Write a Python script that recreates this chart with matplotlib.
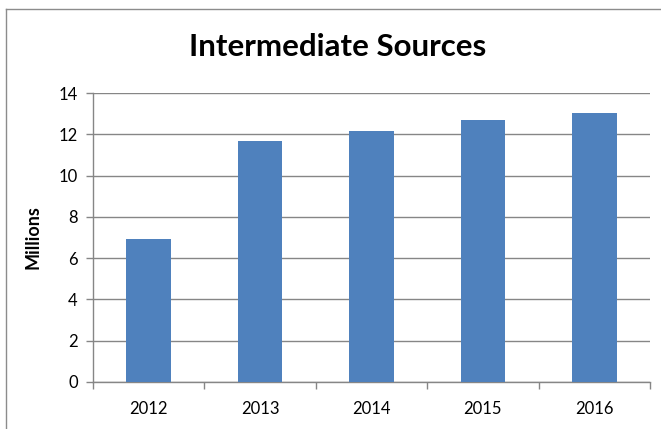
import numpy as np
import matplotlib.pyplot as plt
from matplotlib.lines import Line2D

# data
years = ['2012', '2013', '2014', '2015', '2016']
values = [6.93, 11.67, 12.15, 12.69, 13.02]
y_ticks = [0, 2, 4, 6, 8, 10, 12, 14]

bar_color = '#4F81BD'
grid_color = '#868686'

plt.rcParams['font.family'] = ['Lato', 'DejaVu Sans']

fig = plt.figure(figsize=(6.61, 4.29), dpi=100)
ax = fig.add_axes([93 / 661, 1 - 382 / 429, (650 - 93) / 661, (382 - 93) / 429])

x = np.arange(len(years))
ax.bar(x, values, width=0.4, color=bar_color, zorder=3)

ax.set_xlim(-0.5, len(years) - 0.5)
ax.set_ylim(0, 14)
ax.set_yticks(y_ticks)
ax.set_yticklabels([str(t) for t in y_ticks], fontsize=12)
ax.yaxis.grid(True, color=grid_color, linewidth=1)
ax.set_axisbelow(True)

# labels at centres, tick marks at category boundaries
ax.set_xticks(x)
ax.set_xticklabels(years, fontsize=12)
ax.tick_params(axis='x', which='major', length=0, pad=14)
ax.set_xticks(np.arange(len(years) + 1) - 0.5, minor=True)
ax.tick_params(axis='x', which='minor', length=5, color=grid_color, width=1)
ax.tick_params(axis='y', length=5, color=grid_color, width=1, pad=6)

for s in ['top', 'right']:
    ax.spines[s].set_visible(False)
for s in ['left', 'bottom']:
    ax.spines[s].set_color(grid_color)
    ax.spines[s].set_linewidth(1)

ax.set_ylabel('Millions', fontsize=13, fontweight='bold', labelpad=12)

fig.text(338 / 661, 1 - 47 / 429, 'Intermediate Sources', fontsize=22.5,
         fontweight='bold', ha='center', va='center')

# outer chart frame (left and top edges visible)
fx = 5.5 / 661
fy = 1 - 8.5 / 429
fig.add_artist(Line2D([fx, fx], [0, fy], transform=fig.transFigure, color='#8c8c8c', linewidth=1))
fig.add_artist(Line2D([fx, 1], [fy, fy], transform=fig.transFigure, color='#8c8c8c', linewidth=1))

fig.savefig('out.png', dpi=100)
